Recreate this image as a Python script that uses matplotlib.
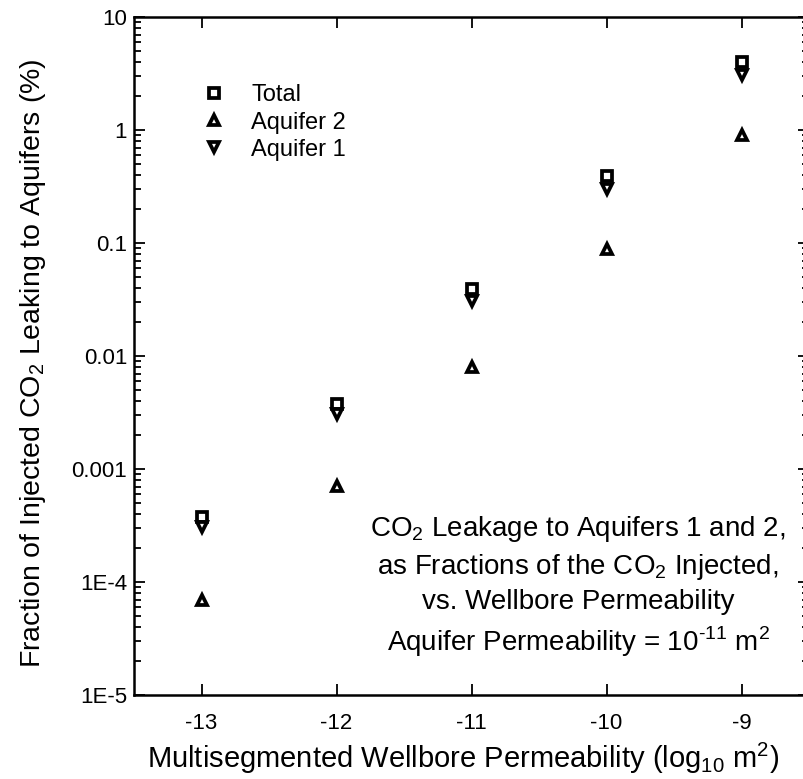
import numpy as np
import matplotlib
matplotlib.use("Agg")
import matplotlib.pyplot as plt
from matplotlib.ticker import LogLocator, NullFormatter, FixedLocator

plt.rcParams["font.family"] = ["Liberation Sans", "DejaVu Sans"]
plt.rcParams["mathtext.fontset"] = "custom"
plt.rcParams["mathtext.rm"] = "Liberation Sans"

# data: log10 wellbore permeability vs leakage fraction (%)
perm = [-13, -12, -11, -10, -9]
total = [3.8e-4, 3.8e-3, 0.039, 0.39, 4.0]
aquifer2 = [7.0e-5, 7.1e-4, 8.0e-3, 0.089, 0.91]
aquifer1 = [3.1e-4, 3.1e-3, 0.031, 0.30, 3.1]

ytick_vals = [1e-5, 1e-4, 1e-3, 1e-2, 1e-1, 1, 10]
ytick_labels = ["1E-5", "1E-4", "0.001", "0.01", "0.1", "1", "10"]

fig = plt.figure(figsize=(8.04, 7.79), dpi=100)
ax = fig.add_axes([134 / 804, 84 / 779, 675 / 804, 677.7 / 779])

mk = dict(linestyle="none", markerfacecolor="white", markeredgecolor="black",
          markeredgewidth=2.7, color="black")
ax.plot(perm, total, marker="s", markersize=7, label="Total", **mk)
ax.plot(perm, aquifer2, marker="^", markersize=7.5, label="Aquifer 2", **mk)
ax.plot(perm, aquifer1, marker="v", markersize=7.5, label="Aquifer 1", **mk)

ax.set_yscale("log")
ax.set_xlim(-13.5, -8.5)
ax.set_ylim(1e-5, 10)

ax.xaxis.set_major_locator(FixedLocator(perm))
ax.set_xticklabels([str(p) for p in perm])
ax.set_yticks(ytick_vals)
ax.set_yticklabels(ytick_labels)
ax.yaxis.set_minor_locator(LogLocator(base=10, subs=np.arange(2, 10)))
ax.yaxis.set_minor_formatter(NullFormatter())

ax.tick_params(which="both", direction="in", top=True, right=True, width=1.3)
ax.tick_params(which="major", length=8, labelsize=16)
ax.tick_params(which="minor", length=5)
ax.tick_params(axis="x", pad=13)
ax.tick_params(axis="y", pad=5)
for s in ax.spines.values():
    s.set_linewidth(1.8)

ax.set_xlabel(r"Multisegmented Wellbore Permeability (log$_{10}$ m$^2$)", fontsize=21)
ax.set_ylabel(r"Fraction of Injected CO$_2$ Leaking to Aquifers (%)", fontsize=20.5)
ax.xaxis.set_label_coords(0.487, -0.068)
ax.yaxis.set_label_coords(-0.128, 0.49)

ax.legend(loc="upper left", bbox_to_anchor=(0.083, 0.915), frameon=False, fontsize=17,
          handletextpad=1.0, labelspacing=0.22, borderaxespad=0, handlelength=1.2)

ax.text(0.658, 0.16,
        "CO$_2$ Leakage to Aquifers 1 and 2,\n"
        "as Fractions of the CO$_2$ Injected,\n"
        "vs. Wellbore Permeability\n"
        r"Aquifer Permeability = 10$^{\text{-11}}$ m$^2$",
        transform=ax.transAxes, ha="center", va="center", fontsize=20,
        linespacing=1.35)

fig.savefig("out.png", dpi=100)
